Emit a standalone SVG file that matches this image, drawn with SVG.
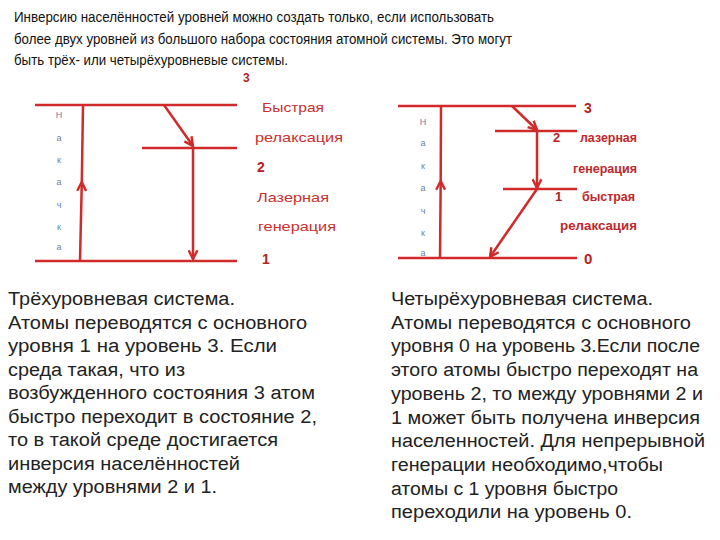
<svg xmlns="http://www.w3.org/2000/svg" width="720" height="540" viewBox="0 0 720 540">
<defs>
<style>
.hdr{font-family:"Liberation Sans",Arial,sans-serif;font-size:15.5px;fill:#111}
.para{font-family:"Liberation Sans",Arial,sans-serif;font-size:18px;fill:#222}
.lvl{stroke:#d02a2a;stroke-width:2.5;fill:none}
.arr{stroke:#d02a2a;stroke-width:2.5;fill:none}
.lblL{font-family:"Liberation Sans",Arial,sans-serif;font-size:13px;fill:#c8302e}
.lblR{font-family:"Liberation Sans",Arial,sans-serif;font-size:12px;font-weight:bold;fill:#c0282a}
.num{font-family:"Liberation Sans",Arial,sans-serif;font-weight:bold;fill:#b52222}
.vk{font-family:"Liberation Sans",Arial,sans-serif;font-size:9px;fill:#6c82a6;text-anchor:middle}
</style>
<marker id="ah" viewBox="0 0 10 10" refX="9" refY="5" markerWidth="11" markerHeight="11" markerUnits="userSpaceOnUse" orient="auto">
<path d="M1,1 L9,5 L1,9" stroke="#d02a2a" stroke-width="2.2" fill="none"/>
</marker>
</defs>
<rect width="720" height="540" fill="#fff"/>

<g id="header">
<text class="hdr" x="14" y="22" textLength="480" lengthAdjust="spacingAndGlyphs">Инверсию населённостей уровней можно создать только, если использовать</text>
<text class="hdr" x="14" y="44" textLength="498" lengthAdjust="spacingAndGlyphs">более двух уровней из большого набора состояния атомной системы. Это могут</text>
<text class="hdr" x="14" y="65" textLength="274" lengthAdjust="spacingAndGlyphs">быть трёх- или четырёхуровневые системы.</text>
</g>

<g id="three-level">
<g id="L3-level3"><line class="lvl" x1="35" y1="105" x2="237" y2="105"/></g>
<g id="L3-level2"><line class="lvl" x1="142" y1="148" x2="237" y2="148"/></g>
<g id="L3-level1"><line class="lvl" x1="35" y1="261" x2="237" y2="261"/></g>
<g id="L3-labels">
<text class="num" x="243" y="82" font-size="12">3</text>
<text class="lblL" x="262" y="112" textLength="62" lengthAdjust="spacingAndGlyphs">Быстрая</text>
<text class="lblL" x="255" y="142" textLength="88" lengthAdjust="spacingAndGlyphs">релаксация</text>
<text class="num" x="257" y="172" font-size="14">2</text>
<text class="lblL" x="257" y="202" textLength="72" lengthAdjust="spacingAndGlyphs">Лазерная</text>
<text class="lblL" x="258" y="231" textLength="78" lengthAdjust="spacingAndGlyphs">генерация</text>
<text class="num" x="262" y="264" font-size="14">1</text>
</g>
<g id="L3-pump">
<text class="vk" x="59" y="118">Н</text>
<text class="vk" x="59" y="141">а</text>
<text class="vk" x="59" y="163">к</text>
<text class="vk" x="59" y="185">а</text>
<text class="vk" x="59" y="208">ч</text>
<text class="vk" x="59" y="230">к</text>
<text class="vk" x="59" y="250">а</text>
</g>
</g>

<g id="four-level">
<g id="L4-level3"><line class="lvl" x1="398" y1="106" x2="576" y2="106"/></g>
<g id="L4-level2"><line class="lvl" x1="495" y1="131" x2="577" y2="131"/></g>
<g id="L4-level1"><line class="lvl" x1="503" y1="189" x2="577" y2="189"/></g>
<g id="L4-level0"><line class="lvl" x1="398" y1="258" x2="577" y2="258"/></g>
<g id="L4-labels">
<text class="num" x="584" y="113" font-size="14">3</text>
<text class="num" x="553" y="142" font-size="13">2</text>
<text class="lblR" x="580" y="142" textLength="57" lengthAdjust="spacingAndGlyphs">лазерная</text>
<text class="lblR" x="573" y="173" textLength="64" lengthAdjust="spacingAndGlyphs">генерация</text>
<text class="num" x="555" y="201" font-size="13">1</text>
<text class="lblR" x="582" y="201" textLength="53" lengthAdjust="spacingAndGlyphs">быстрая</text>
<text class="lblR" x="560" y="230" textLength="77" lengthAdjust="spacingAndGlyphs">релаксация</text>
<text class="num" x="584" y="264" font-size="15">0</text>
</g>
<g id="L4-pump">
<text class="vk" x="423" y="125">Н</text>
<text class="vk" x="423" y="146">а</text>
<text class="vk" x="423" y="169">к</text>
<text class="vk" x="423" y="191">а</text>
<text class="vk" x="423" y="214">ч</text>
<text class="vk" x="423" y="236">к</text>
<text class="vk" x="423" y="256">а</text>
</g>
</g>

<g id="connectors">
<path class="arr" d="M80,261 L81.8,182 L83,105" marker-mid="url(#ah)"/>
<path class="arr" d="M164,105 L193,146" marker-end="url(#ah)"/>
<path class="arr" d="M193,148 L193,259" marker-end="url(#ah)"/>
<path class="arr" d="M440,258 L440.7,181 L441,106" marker-mid="url(#ah)"/>
<path class="arr" d="M512,106 L537,130" marker-end="url(#ah)"/>
<path class="arr" d="M537,131 L537,188" marker-end="url(#ah)"/>
<path class="arr" d="M537,189 L490,257" marker-end="url(#ah)"/>
</g>

<g id="text-left">
<text class="para" x="8" y="305" textLength="227" lengthAdjust="spacingAndGlyphs">Трёхуровневая система.</text>
<text class="para" x="8" y="328.5" textLength="299" lengthAdjust="spacingAndGlyphs">Атомы переводятся с основного</text>
<text class="para" x="8" y="352" textLength="269" lengthAdjust="spacingAndGlyphs">уровня 1 на уровень 3.  Если</text>
<text class="para" x="8" y="375.5" textLength="177" lengthAdjust="spacingAndGlyphs">среда такая, что из</text>
<text class="para" x="8" y="399" textLength="307" lengthAdjust="spacingAndGlyphs">возбужденного состояния 3 атом</text>
<text class="para" x="8" y="422.5" textLength="309" lengthAdjust="spacingAndGlyphs">быстро переходит в состояние 2,</text>
<text class="para" x="8" y="446" textLength="270" lengthAdjust="spacingAndGlyphs">то в такой среде достигается</text>
<text class="para" x="8" y="469.5" textLength="232" lengthAdjust="spacingAndGlyphs">инверсия населённостей</text>
<text class="para" x="8" y="493" textLength="209" lengthAdjust="spacingAndGlyphs">между уровнями 2 и 1.</text>
</g>

<g id="text-right">
<text class="para" x="391" y="305" textLength="262" lengthAdjust="spacingAndGlyphs">Четырёхуровневая система.</text>
<text class="para" x="391" y="328.7" textLength="300" lengthAdjust="spacingAndGlyphs">Атомы переводятся с основного</text>
<text class="para" x="391" y="352.4" textLength="309" lengthAdjust="spacingAndGlyphs">уровня 0 на уровень 3.Если после</text>
<text class="para" x="391" y="376.1" textLength="307" lengthAdjust="spacingAndGlyphs">этого атомы быстро переходят на</text>
<text class="para" x="391" y="399.8" textLength="312" lengthAdjust="spacingAndGlyphs">уровень 2, то между уровнями 2 и</text>
<text class="para" x="391" y="423.5" textLength="309" lengthAdjust="spacingAndGlyphs">1 может быть получена инверсия</text>
<text class="para" x="391" y="447.2" textLength="314" lengthAdjust="spacingAndGlyphs">населенностей. Для непрерывной</text>
<text class="para" x="391" y="470.9" textLength="272" lengthAdjust="spacingAndGlyphs">генерации необходимо,чтобы</text>
<text class="para" x="391" y="494.6" textLength="227" lengthAdjust="spacingAndGlyphs">атомы с 1 уровня быстро</text>
<text class="para" x="391" y="518.3" textLength="241" lengthAdjust="spacingAndGlyphs">переходили на уровень 0.</text>
</g>
</svg>
